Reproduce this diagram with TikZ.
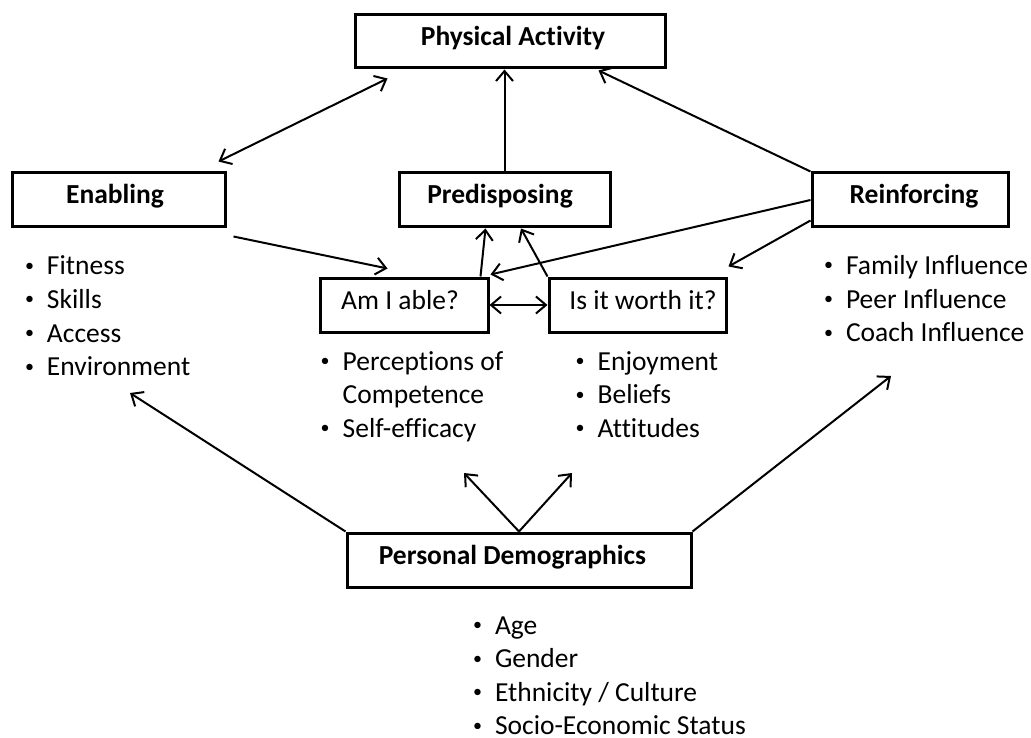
\documentclass[tikz,border=0pt]{standalone}
\usepackage{fontspec}
\setmainfont[Ligatures=NoCommon]{Carlito}
\usetikzlibrary{arrows.meta,calc}
% bullet column: a small dot centred in 14pt, text starting after a fixed gap
\newcommand\itemdot{\makebox[24.5pt][l]{\makebox[14pt]{\raisebox{3.5pt}{\fontsize{18}{18}\selectfont •}}}}
\begin{document}
\begin{tikzpicture}[x=1pt,y=-1pt,
  box/.style={draw,line width=3pt,inner sep=0pt,text height=18pt,text depth=10pt,
    font=\fontsize{27.5}{33}\selectfont},
  hdr/.style={box,font=\fontsize{27.5}{33}\selectfont\bfseries},
  conn/.style={line width=2pt,-{Straight Barb[length=10pt,width=17pt]}},
  both/.style={line width=2pt,{Straight Barb[length=10pt,width=17pt]}-{Straight Barb[length=10pt,width=17pt]}},
  items/.style={anchor=base west,inner sep=0pt,font=\fontsize{27.5}{33.5}\selectfont}]
\useasboundingbox (0,0) rectangle (1031,738);

% factor boxes
\node[hdr,minimum width=310,minimum height=53] (pa) at (510,41.5) {\hspace*{6pt}Physical Activity};
\node[hdr,minimum width=213,minimum height=54] (enab) at (118.5,200) {Enabling\hspace*{7pt}};
\node[hdr,minimum width=211,minimum height=54] (pred) at (504.5,200) {Predisposing\hspace*{9pt}};
\node[hdr,minimum width=196,minimum height=54] (reinf) at (910,200) {\hspace*{8pt}Reinforcing};
\node[box,minimum width=168,minimum height=54] (able) at (404,305) {Am I able?\hspace*{8pt}};
\node[box,minimum width=177,minimum height=54] (worth) at (637.5,305) {\hspace*{11pt}Is it worth it?};
\node[hdr,minimum width=344,minimum height=54] (pd) at (519,560) {Personal Demographics\hspace*{13pt}};

% item lists
\node[items] (enablist) at (22.3,275) {\begin{tabular}[t]{@{}l@{}l@{}}
  \itemdot & Fitness\\ \itemdot & Skills\\ \itemdot & Access\\ \itemdot & Environment\end{tabular}};
\node[items] (ablelist) at (318,370) {\begin{tabular}[t]{@{}l@{}l@{}}
  \itemdot & Perceptions of\\ & Competence\\ \itemdot & Self-efficacy\end{tabular}};
\node[items] (worthlist) at (573,370) {\begin{tabular}[t]{@{}l@{}l@{}}
  \itemdot & Enjoyment\\ \itemdot & Beliefs\\ \itemdot & Attitudes\end{tabular}};
\node[items] (reinflist) at (821.3,274.5) {\begin{tabular}[t]{@{}l@{}l@{}}
  \itemdot & Family Influence\\ \itemdot & Peer Influence\\ \itemdot & Coach Influence\end{tabular}};
\node[items] (pdlist) at (470.3,634) {\begin{tabular}[t]{@{}l@{}l@{}}
  \itemdot & Age\\ \itemdot & Gender\\ \itemdot & Ethnicity / Culture\\ \itemdot & Socio-Economic Status\end{tabular}};

% free ends of the demographic arrows
\coordinate (tenab) at (130,393);
\coordinate (treinf) at (891,376);
\coordinate (table) at (464,473);
\coordinate (tworth) at (572,473);

% connectors
\draw[both] ($(enab.north east)+(-8,-10)$) -- ($(pa.south west)+(34,9)$);
\draw[conn] (pred.north) -- (pred.north |- pa.south);
\draw[conn] (reinf.north west) -- ($(pa.south east)+(-68,1)$);
\draw[conn] ($(enab.south east)+(7,8)$) -- ($(able.north west)+(69,-8)$);
\draw[conn] ($(able.north east)+(-9,0)$) -- ($(pred.south west)+(88,0)$);
\draw[conn] (worth.north west) -- ($(pred.south west)+(123.5,0)$);
\draw[both] (able.east) -- (worth.west);
\draw[conn] (reinf.west) -- ($(able.north east)+(1,-2)$);
\draw[conn] ($(reinf.south west)+(0,-8)$) -- ($(worth.north east)+(1,-10)$);
\draw[conn] (pd.north west) -- (tenab);
\draw[conn] (pd.north east) -- (treinf);
\draw[conn] (pd.north) -- (table);
\draw[conn] (pd.north) -- (tworth);
\end{tikzpicture}
\end{document}
